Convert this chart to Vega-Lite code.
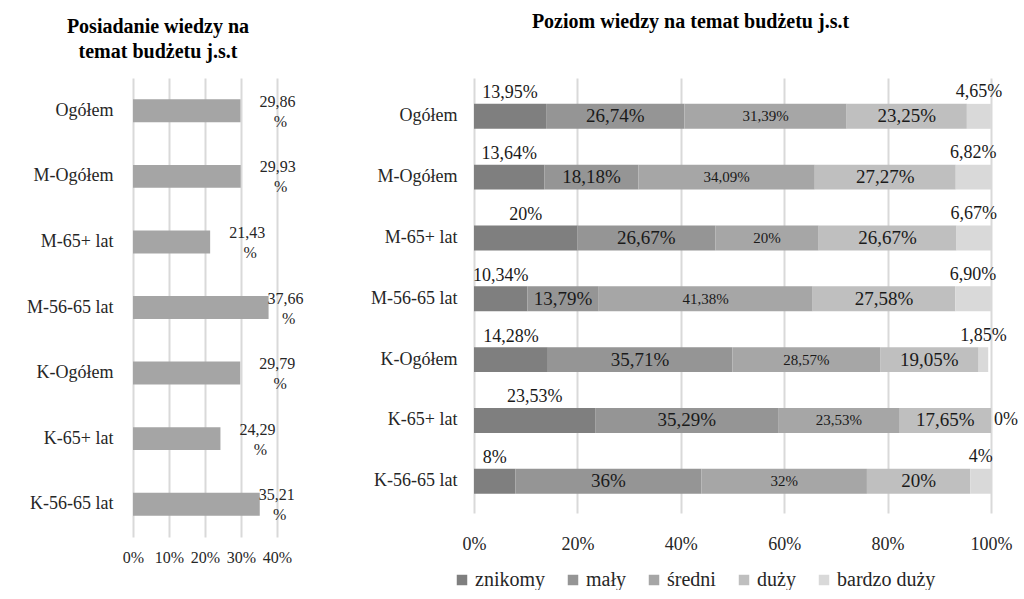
{
  "$schema": "https://vega.github.io/schema/vega-lite/v6.json",
  "padding": {"left": 5, "top": 12, "right": 5, "bottom": 0},
  "background": "white",
  "config": {
    "locale": {"number": {"decimal": ",", "thousands": " ", "grouping": [3], "currency": ["", " zł"]}},
    "font": "Liberation Serif",
    "text": {"font": "Liberation Serif"},
    "view": {"stroke": null},
    "axis": {"labelFont": "Liberation Serif", "titleFont": "Liberation Serif", "labelColor": "#262626", "domain": false, "ticks": false},
    "legend": {"labelFont": "Liberation Serif", "titleFont": "Liberation Serif"},
    "title": {"font": "Liberation Serif", "fontWeight": "bold", "fontSize": 20, "color": "#000000"},
    "concat": {"spacing": 40}
  },
  "resolve": {"scale": {"color": "independent"}, "legend": {"color": "independent"}},
  "hconcat": [
    {
      "title": {"text": ["Posiadanie wiedzy na", "temat budżetu  j.s.t"], "font": "Liberation Serif", "dx": -47, "dy": -4, "offset": 12, "lineHeight": 25},
      "width": 144,
      "height": 459,
      "data": {"values": [
        {"g": "Ogółem", "v": 29.86},
        {"g": "M-Ogółem", "v": 29.93},
        {"g": "M-65+ lat", "v": 21.43},
        {"g": "M-56-65 lat", "v": 37.66},
        {"g": "K-Ogółem", "v": 29.79},
        {"g": "K-65+ lat", "v": 24.29},
        {"g": "K-56-65 lat", "v": 35.21}
      ]},
      "encoding": {
        "y": {"field": "g", "type": "nominal", "sort": null,
          "scale": {"paddingInner": 0.65, "paddingOuter": 0.325},
          "axis": {"title": null, "labelFont": "Liberation Serif", "labelFontSize": 18, "labelPadding": 20, "minExtent": 128, "maxExtent": 128}},
        "x": {"field": "v", "type": "quantitative", "scale": {"domain": [0, 40]},
          "axis": {"title": null, "values": [0, 10, 20, 30, 40], "labelExpr": "datum.value + '%'", "grid": true, "gridColor": "#d9d9d9", "gridWidth": 2, "labelFont": "Liberation Serif", "labelFontSize": 16, "labelPadding": 12, "labelOverlap": false, "labelFlush": false, "labelBound": false}}
      },
      "layer": [
        {
          "mark": {"type": "bar", "color": "#a5a5a5"}
        },
        {
          "transform": [{"filter": "datum.v < 33"}],
          "mark": {"type": "text", "font": "Liberation Serif", "dx": 37, "dy": -9, "fontSize": 16, "color": "#262626", "baseline": "middle"},
          "encoding": {"text": {"field": "v", "type": "quantitative", "format": ".2f"}}
        },
        {
          "transform": [{"filter": "datum.v < 33"}],
          "mark": {"type": "text", "font": "Liberation Serif", "text": "%", "dx": 40, "dy": 11, "fontSize": 16, "color": "#262626", "baseline": "middle"}
        },
        {
          "transform": [{"filter": "datum.v >= 33"}],
          "mark": {"type": "text", "font": "Liberation Serif", "dx": 17, "dy": -9, "fontSize": 16, "color": "#262626", "baseline": "middle"},
          "encoding": {"text": {"field": "v", "type": "quantitative", "format": ".2f"}}
        },
        {
          "transform": [{"filter": "datum.v >= 33"}],
          "mark": {"type": "text", "font": "Liberation Serif", "text": "%", "dx": 20, "dy": 11, "fontSize": 16, "color": "#262626", "baseline": "middle"}
        }
      ]
    },
    {
      "title": {"text": "Poziom wiedzy na temat budżetu j.s.t", "font": "Liberation Serif", "dx": -42, "offset": 46},
      "width": 517,
      "height": 435,
      "data": {"values": [
        {"g": "Ogółem", "c": "znikomy", "k": 0, "v": 0.1395, "t": "13,95%"},
        {"g": "Ogółem", "c": "mały", "k": 1, "v": 0.2674, "t": "26,74%"},
        {"g": "Ogółem", "c": "średni", "k": 2, "v": 0.3139, "t": "31,39%"},
        {"g": "Ogółem", "c": "duży", "k": 3, "v": 0.2325, "t": "23,25%"},
        {"g": "Ogółem", "c": "bardzo duży", "k": 4, "v": 0.0465, "t": "4,65%"},
        {"g": "M-Ogółem", "c": "znikomy", "k": 0, "v": 0.1364, "t": "13,64%"},
        {"g": "M-Ogółem", "c": "mały", "k": 1, "v": 0.1818, "t": "18,18%"},
        {"g": "M-Ogółem", "c": "średni", "k": 2, "v": 0.3409, "t": "34,09%"},
        {"g": "M-Ogółem", "c": "duży", "k": 3, "v": 0.2727, "t": "27,27%"},
        {"g": "M-Ogółem", "c": "bardzo duży", "k": 4, "v": 0.0682, "t": "6,82%"},
        {"g": "M-65+ lat", "c": "znikomy", "k": 0, "v": 0.20, "t": "20%"},
        {"g": "M-65+ lat", "c": "mały", "k": 1, "v": 0.2667, "t": "26,67%"},
        {"g": "M-65+ lat", "c": "średni", "k": 2, "v": 0.20, "t": "20%"},
        {"g": "M-65+ lat", "c": "duży", "k": 3, "v": 0.2667, "t": "26,67%"},
        {"g": "M-65+ lat", "c": "bardzo duży", "k": 4, "v": 0.0667, "t": "6,67%"},
        {"g": "M-56-65 lat", "c": "znikomy", "k": 0, "v": 0.1034, "t": "10,34%"},
        {"g": "M-56-65 lat", "c": "mały", "k": 1, "v": 0.1379, "t": "13,79%"},
        {"g": "M-56-65 lat", "c": "średni", "k": 2, "v": 0.4138, "t": "41,38%"},
        {"g": "M-56-65 lat", "c": "duży", "k": 3, "v": 0.2758, "t": "27,58%"},
        {"g": "M-56-65 lat", "c": "bardzo duży", "k": 4, "v": 0.0690, "t": "6,90%"},
        {"g": "K-Ogółem", "c": "znikomy", "k": 0, "v": 0.1428, "t": "14,28%"},
        {"g": "K-Ogółem", "c": "mały", "k": 1, "v": 0.3571, "t": "35,71%"},
        {"g": "K-Ogółem", "c": "średni", "k": 2, "v": 0.2857, "t": "28,57%"},
        {"g": "K-Ogółem", "c": "duży", "k": 3, "v": 0.1905, "t": "19,05%"},
        {"g": "K-Ogółem", "c": "bardzo duży", "k": 4, "v": 0.0185, "t": "1,85%"},
        {"g": "K-65+ lat", "c": "znikomy", "k": 0, "v": 0.2353, "t": "23,53%"},
        {"g": "K-65+ lat", "c": "mały", "k": 1, "v": 0.3529, "t": "35,29%"},
        {"g": "K-65+ lat", "c": "średni", "k": 2, "v": 0.2353, "t": "23,53%"},
        {"g": "K-65+ lat", "c": "duży", "k": 3, "v": 0.1765, "t": "17,65%"},
        {"g": "K-65+ lat", "c": "bardzo duży", "k": 4, "v": 0.0, "t": "0%"},
        {"g": "K-56-65 lat", "c": "znikomy", "k": 0, "v": 0.08, "t": "8%"},
        {"g": "K-56-65 lat", "c": "mały", "k": 1, "v": 0.36, "t": "36%"},
        {"g": "K-56-65 lat", "c": "średni", "k": 2, "v": 0.32, "t": "32%"},
        {"g": "K-56-65 lat", "c": "duży", "k": 3, "v": 0.20, "t": "20%"},
        {"g": "K-56-65 lat", "c": "bardzo duży", "k": 4, "v": 0.04, "t": "4%"}
      ]},
      "transform": [
        {"stack": "v", "groupby": ["g"], "sort": [{"field": "k", "order": "ascending"}], "as": ["v0", "v1"]},
        {"calculate": "(datum.v0 + datum.v1) / 2", "as": "m"}
      ],
      "encoding": {
        "y": {"field": "g", "type": "nominal",
          "sort": ["Ogółem", "M-Ogółem", "M-65+ lat", "M-56-65 lat", "K-Ogółem", "K-65+ lat", "K-56-65 lat"],
          "scale": {"paddingInner": 0.59, "paddingOuter": 0.371, "align": 0.573},
          "axis": {"title": null, "labelFont": "Liberation Serif", "labelFontSize": 18, "labelPadding": 17, "minExtent": 130, "maxExtent": 130}}
      },
      "layer": [
        {
          "mark": {"type": "bar"},
          "encoding": {
            "x": {"field": "v0", "type": "quantitative", "scale": {"domain": [0, 1]},
              "axis": {"title": null, "values": [0, 0.2, 0.4, 0.6, 0.8, 1], "format": ".0%", "grid": true, "gridColor": "#d9d9d9", "gridWidth": 2, "labelFont": "Liberation Serif", "labelFontSize": 18, "labelPadding": 22, "labelFlush": false, "labelOverlap": false}},
            "x2": {"field": "v1"},
            "color": {"field": "c", "type": "nominal",
              "scale": {"domain": ["znikomy", "mały", "średni", "duży", "bardzo duży"], "range": ["#7f7f7f", "#959595", "#a6a6a6", "#bfbfbf", "#d9d9d9"]},
              "legend": {"title": null, "orient": "none", "legendX": -22, "legendY": 492, "direction": "horizontal", "symbolType": "square", "symbolSize": 110, "symbolStrokeWidth": 0, "labelFontSize": 20, "labelFont": "Liberation Serif", "labelColor": "#262626", "columnPadding": 18, "labelOffset": 3}}
          }
        },
        {
          "transform": [{"filter": "datum.k == 1 || datum.k == 3"}],
          "mark": {"type": "text", "font": "Liberation Serif", "fontSize": 19, "color": "#1a1a1a", "baseline": "middle"},
          "encoding": {"x": {"field": "m", "type": "quantitative"}, "text": {"field": "t"}}
        },
        {
          "transform": [{"filter": "datum.k == 2"}],
          "mark": {"type": "text", "font": "Liberation Serif", "fontSize": 15, "color": "#1a1a1a", "baseline": "middle"},
          "encoding": {"x": {"field": "m", "type": "quantitative"}, "text": {"field": "t"}}
        },
        {
          "transform": [{"filter": "datum.k == 0"}],
          "mark": {"type": "text", "font": "Liberation Serif", "fontSize": 18, "color": "#1a1a1a", "baseline": "middle", "dy": -23},
          "encoding": {"x": {"field": "m", "type": "quantitative"}, "text": {"field": "t"}}
        },
        {
          "transform": [{"filter": "datum.k == 4 && datum.v > 0"}],
          "mark": {"type": "text", "font": "Liberation Serif", "fontSize": 18, "color": "#1a1a1a", "baseline": "middle", "dy": -24},
          "encoding": {"x": {"field": "m", "type": "quantitative"}, "text": {"field": "t"}}
        },
        {
          "transform": [{"filter": "datum.k == 4 && datum.v == 0"}],
          "mark": {"type": "text", "font": "Liberation Serif", "fontSize": 18, "color": "#1a1a1a", "baseline": "middle", "align": "left", "dx": 3},
          "encoding": {"x": {"field": "v1", "type": "quantitative"}, "text": {"field": "t"}}
        }
      ]
    }
  ]
}
